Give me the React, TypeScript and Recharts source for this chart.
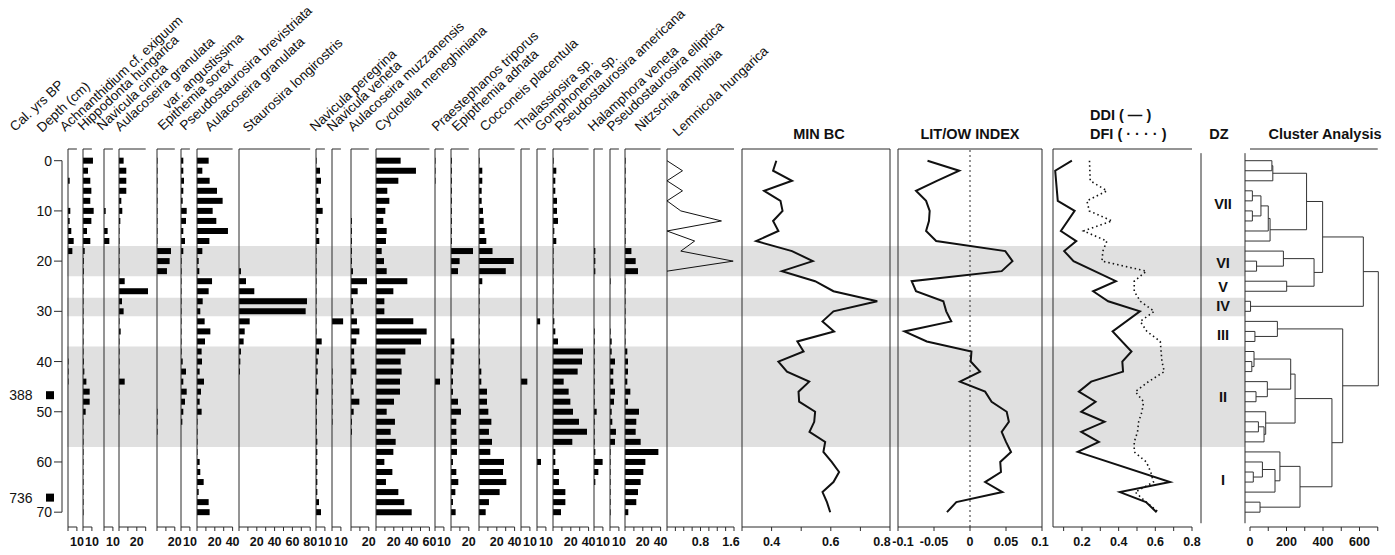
import React from 'react';
import {
  BarChart,
  Bar,
  ScatterChart,
  Scatter,
  XAxis,
  YAxis,
  ZAxis,
  ReferenceLine,
  ReferenceArea,
  LabelList,
} from 'recharts';

// ---- page geometry ----
const W = 1395;
const H = 555;
const TOP = 149; // upper axis lines
const BOTTOM = 527; // lower axis lines
const D_MIN = -2.33; // depth (cm) at TOP
const D_MAX = 72.95; // depth (cm) at BOTTOM
const PX_PER_PCT = 0.89;
const PAD = 14; // room round each panel for tick labels
const INK = '#111';
const LINE = '#2b2b2b';
const BAND = '#e0e0e0';
const FONT = '"Liberation Sans", Arial, Helvetica, sans-serif';

// ---- data ----
// sample depths (cm)
const DEPTHS = [0, 2, 4, 6, 8, 10, 12, 14, 16, 18, 20, 22, 24, 26, 28, 30, 32, 34, 36, 38, 40, 42, 44, 46, 48, 50, 52, 54, 56, 58, 60, 62, 64, 66, 68, 70];

// relative abundances (%), one value per sample depth
const ACHNANTHIDIUM = [0, 0, 1.9, 0, 0, 2.6, 1.9, 3.7, 6.4, 4.9, 0, 0, 0, 0, 0, 0, 0, 0, 0, 0, 0.6, 0.6, 0.6, 0, 0, 0, 0, 0, 0, 0, 0, 0, 0, 0, 0, 0];
const HIPPODONTA = [11.2, 5.6, 8.2, 9.4, 8.2, 12, 9.4, 4.5, 8.2, 1.9, 1, 1, 0.6, 0.6, 0.6, 0.6, 0.6, 0.6, 0.6, 0.6, 1, 1.5, 3.8, 7.5, 7.5, 3, 0.6, 0.6, 0.6, 0.6, 0.6, 0.6, 0.6, 0.6, 0.6, 0.6];
const NAVICULA_CINCTA = [0, 0, 0, 0, 0, 1.9, 0, 4.1, 6, 0, 0, 0, 0, 0, 0, 0, 0, 0, 0, 0, 0, 0, 0, 0, 0, 0, 0, 0, 0, 0, 0, 0, 0, 0, 0, 0];
const AULACOSEIRA_ANGUSTISSIMA = [5.2, 8.2, 8.2, 8.2, 2.6, 3.7, 1.5, 0.6, 0.6, 0.6, 0.6, 0.6, 6.4, 32.6, 3.4, 5.2, 0.6, 1.9, 0.6, 0.6, 0.6, 0.6, 6.4, 0.6, 0.6, 0.6, 0, 0, 0, 0, 0, 0, 0, 0, 0, 0];
const EPITHEMIA_SOREX = [0.6, 0.6, 0.6, 0.6, 0.6, 0.6, 0.6, 0.6, 0.6, 15.7, 14.2, 11.2, 0, 0, 0, 0, 0, 0, 0, 0, 0, 0, 0, 0, 0, 0.6, 0.6, 0.6, 0, 0, 0, 0, 0, 0, 0, 0];
const PSEUDOSTAUROSIRA_BREVISTRIATA = [2.6, 2.6, 3.4, 2.6, 1.9, 6.4, 5.6, 2.6, 4.5, 2.6, 0.7, 0.7, 0.6, 0.6, 0.6, 0.6, 0.6, 0.6, 0.6, 0.7, 1.9, 5.6, 2.6, 6.4, 4.5, 2.6, 1.5, 0, 0, 0, 0, 0, 0, 0, 0, 0];
const AULACOSEIRA_GRANULATA = [13.1, 6, 14.2, 22.5, 28.8, 17.6, 21.7, 34.8, 13.9, 6, 1.9, 2.6, 16.9, 13.1, 6.4, 3.7, 8.6, 15, 9, 5.2, 5.6, 3, 7.9, 4.5, 3, 5.2, 0.6, 0.6, 0.6, 0.6, 3, 3.7, 7.5, 1.9, 13.1, 14.2];
const STAUROSIRA = [0, 0, 0, 0, 0, 0, 0, 0, 0, 0, 0, 2.2, 7.9, 17.2, 76.4, 74.9, 12, 6.4, 5.2, 2.2, 1.5, 1.1, 0, 0, 0, 0, 0, 0, 0, 0, 0, 0, 0, 0, 0, 0];
const NAVICULA_PEREGRINA = [0.7, 4.5, 5.6, 2.6, 4.5, 7.5, 2.6, 2.6, 3.7, 0.6, 0.6, 0.6, 0.6, 0.6, 0.6, 0.6, 0.6, 0.6, 6.4, 3.4, 1.9, 1.9, 1, 2.6, 1, 1, 1, 1, 1.5, 1.5, 1.5, 1.5, 1.5, 1.5, 3.4, 5.6];
const NAVICULA_VENETA = [0, 0, 0, 0, 0, 0, 0, 0, 0, 0, 0, 0, 0, 0, 0, 0, 12.5, 0, 0, 0, 0, 0.6, 0.6, 0.6, 0.6, 0.6, 0.6, 0, 0, 0, 0, 0, 0, 0, 0, 0];
const AULACOSEIRA_MUZZANENSIS = [0, 0, 0, 0, 0, 0, 1.1, 1.1, 1.1, 1.1, 1.1, 2.2, 18, 7.5, 2.2, 3, 6.7, 9.4, 6, 3.5, 3.7, 6, 2.2, 3, 9.4, 3, 1.1, 1.1, 0, 0, 0, 0, 0, 0, 0, 0];
const CYCLOTELLA = [27.7, 44.9, 25.1, 12.7, 15, 10.5, 8.2, 12, 11.2, 6.4, 9, 12, 35.2, 19.5, 9.4, 9.4, 41.9, 56.9, 50.6, 33, 27.7, 28.8, 27, 27, 20.2, 12, 21.3, 16.5, 22.1, 19.5, 9.4, 18.4, 11.2, 25.1, 31.8, 40.1];
const PRAESTEPHANOS = [0.6, 0.6, 0.6, 0, 0, 0, 0, 0, 0, 0, 0, 0, 0, 0, 0, 0, 0, 0, 0, 0, 0, 0, 5.6, 0, 0, 0, 0, 0, 0, 0, 0, 0, 0, 0, 0, 0];
const EPITHEMIA_ADNATA = [1, 1, 1, 1, 1, 1, 1, 1, 1, 24.7, 9.7, 7.9, 0, 0, 0, 0, 0, 0, 3.7, 3.7, 3, 2.2, 2.2, 2.2, 7.9, 11.2, 6, 6, 6.7, 6.7, 2.2, 6, 8.2, 4.9, 2.2, 5.2];
const COCCONEIS = [0.7, 3.7, 3.7, 3, 3, 4.5, 5.2, 6.4, 8.2, 15.2, 39.1, 30.1, 3.7, 0.6, 0.6, 0.6, 0.6, 0.6, 0.6, 0.7, 1.2, 2.6, 2.6, 9, 9, 10.5, 13.9, 11.2, 14.6, 12.7, 28.1, 27, 30.7, 23.2, 11.2, 7.5];
const THALASSIOSIRA = [0, 0, 0, 0, 0, 0, 0, 0, 0, 0, 0, 0, 0, 0, 0, 0, 0, 0, 0, 0, 0, 0, 7.1, 0, 0, 0, 0, 0, 0, 0, 0, 0, 0, 0, 0, 0];
const GOMPHONEMA = [0, 0, 0, 0, 0, 0, 0, 0, 0, 0, 0, 0, 0, 0, 0, 0, 3.5, 0, 0, 0, 0, 0, 0, 0, 0, 0, 0, 0, 0, 0, 4.5, 0, 0, 0, 0, 0];
const PSEUDOSTAUROSIRA_AMERICANA = [0.7, 3.7, 2.6, 2.6, 4.5, 4.5, 5.6, 1.5, 3.7, 0.6, 0.6, 0.6, 0.6, 0.6, 0.6, 0.6, 1.5, 2.6, 5.6, 33.7, 32.6, 27.7, 12, 17.6, 19.5, 22.5, 29.2, 38.2, 21.7, 2.6, 2.6, 6.7, 6.7, 13.9, 13.9, 9];
const HALAMPHORA = [0, 0, 0, 0, 0, 0, 0, 0, 0, 1.5, 1.5, 1.5, 0, 0, 0, 0, 0, 0.8, 0.8, 0.8, 0.8, 0.8, 0.8, 0.8, 0.8, 3, 0.8, 0.8, 0.8, 1.5, 9.7, 4.9, 1.5, 0, 0, 0];
const PSEUDOSTAUROSIRA_ELLIPTICA = [0, 0, 0, 0, 0, 0, 0, 0, 0, 0, 0, 0, 0.7, 0, 0, 0, 0, 0.7, 1.9, 1.9, 5.6, 3.7, 3.7, 5.6, 4.5, 1.9, 2.6, 6.7, 5.6, 0.7, 0.7, 0.7, 0.7, 0.7, 0.7, 0.7];
const NITZSCHIA = [0.7, 0.7, 0.7, 0.7, 0.7, 0.7, 0.7, 0.7, 0.7, 7.2, 12, 14.6, 0.6, 0.6, 0.6, 0.6, 0.6, 0.6, 0.6, 2.6, 3.4, 3.4, 2.6, 6, 3.4, 15.7, 12.7, 12, 17.6, 37.5, 22.9, 20.6, 17.6, 14.6, 12.7, 3.7];

const TAXA = [
  { name: 'Achnanthidium cf. exiguum', values: ACHNANTHIDIUM, max: 10 },
  { name: 'Hippodonta hungarica', values: HIPPODONTA, max: 10 },
  { name: 'Navicula cincta', values: NAVICULA_CINCTA, max: 10 },
  { name: 'Aulacoseira granulata', values: AULACOSEIRA_ANGUSTISSIMA, max: 30 },
  { name: 'Epithemia sorex', values: EPITHEMIA_SOREX, max: 20 },
  { name: 'Pseudostaurosira brevistriata', values: PSEUDOSTAUROSIRA_BREVISTRIATA, max: 10 },
  { name: 'Aulacoseira granulata', values: AULACOSEIRA_GRANULATA, max: 40 },
  { name: 'Staurosira longirostris', values: STAUROSIRA, max: 80 },
  { name: 'Navicula peregrina', values: NAVICULA_PEREGRINA, max: 10 },
  { name: 'Navicula veneta', values: NAVICULA_VENETA, max: 10 },
  { name: 'Aulacoseira muzzanensis', values: AULACOSEIRA_MUZZANENSIS, max: 20 },
  { name: 'Cyclotella meneghiniana', values: CYCLOTELLA, max: 60 },
  { name: 'Praestephanos triporus', values: PRAESTEPHANOS, max: 10 },
  { name: 'Epipthemia adnata', values: EPITHEMIA_ADNATA, max: 20 },
  { name: 'Cocconeis placentula', values: COCCONEIS, max: 40 },
  { name: 'Thalassiosira sp.', values: THALASSIOSIRA, max: 10 },
  { name: 'Gomphonema sp.', values: GOMPHONEMA, max: 10 },
  { name: 'Pseudostaurosira americana', values: PSEUDOSTAUROSIRA_AMERICANA, max: 40 },
  { name: 'Halamphora veneta', values: HALAMPHORA, max: 10 },
  { name: 'Pseudostaurosira elliptica', values: PSEUDOSTAUROSIRA_ELLIPTICA, max: 10 },
  { name: 'Nitzschia amphibia', values: NITZSCHIA, max: 40 },
];

const LEMNICOLA_DEPTHS = [0, 2, 4, 6, 8, 10, 12, 14, 16, 18, 20, 22];
const LEMNICOLA = [0, 0.37, 0, 0.37, 0, 0.33, 1.3, 0, 0.66, 0.33, 1.58, 0];

const MIN_BC = [0.416, 0.405, 0.469, 0.375, 0.43, 0.437, 0.405, 0.423, 0.348, 0.469, 0.539, 0.435, 0.547, 0.609, 0.757, 0.609, 0.572, 0.611, 0.487, 0.508, 0.423, 0.452, 0.527, 0.491, 0.493, 0.547, 0.544, 0.528, 0.581, 0.575, 0.603, 0.628, 0.609, 0.572, 0.587, 0.598];
const LIT_OW = [-0.059, -0.015, -0.046, -0.075, -0.061, -0.056, -0.057, -0.061, -0.047, 0.049, 0.059, 0.044, -0.081, -0.075, -0.037, -0.033, -0.026, -0.091, -0.06, 0.002, 0.001, 0.014, -0.014, 0.021, 0.03, 0.051, 0.054, 0.044, 0.05, 0.057, 0.042, 0.043, 0.021, 0.045, -0.019, -0.032];

const DDI_DEPTHS = [0, 2, 8, 10, 14, 16, 18, 20, 24, 26, 28, 30, 34, 38, 40, 42, 44, 46, 48, 50, 52, 54, 56, 58, 64, 66, 68, 70];
const DDI = [0.145, 0.054, 0.068, 0.16, 0.085, 0.169, 0.103, 0.154, 0.385, 0.261, 0.343, 0.516, 0.367, 0.47, 0.42, 0.424, 0.25, 0.183, 0.274, 0.196, 0.323, 0.196, 0.292, 0.177, 0.68, 0.407, 0.549, 0.607];
const DFI_DEPTHS = [0, 4, 6, 8, 10, 12, 14, 16, 18, 20, 22, 24, 26, 28, 30, 32, 34, 36, 40, 42, 44, 46, 48, 50, 52, 54, 56, 58, 60, 62, 64, 66, 68, 70];
const DFI = [0.241, 0.245, 0.336, 0.227, 0.24, 0.364, 0.209, 0.336, 0.314, 0.309, 0.551, 0.485, 0.485, 0.518, 0.594, 0.518, 0.554, 0.627, 0.636, 0.649, 0.563, 0.491, 0.536, 0.527, 0.509, 0.503, 0.485, 0.485, 0.551, 0.575, 0.59, 0.49, 0.551, 0.618];

// cluster analysis: [node, child A, child B, linkage distance]; numbers are leaf depths
const CLUSTER_MERGES: [string, string | number, string | number, number][] = [
  ['n1', 0, 2, 120], ['n2', 'n1', 4, 125],
  ['n3', 6, 8, 13], ['n4', 10, 12, 13], ['n5', 'n3', 'n4', 60], ['n6', 'n5', 14, 100], ['n7', 'n6', 16, 110],
  ['n8', 'n2', 'n7', 310],
  ['n9', 20, 22, 36], ['n10', 18, 'n9', 183], ['n11', 24, 26, 201], ['n12', 'n10', 'n11', 351],
  ['n13', 'n8', 'n12', 398], ['n14', 28, 30, 3], ['n15', 'n13', 'n14', 621],
  ['n16', 34, 36, 27], ['n17', 32, 'n16', 150],
  ['n18', 40, 42, 10], ['n19', 38, 'n18', 22], ['n20', 46, 48, 33], ['n21', 44, 'n20', 95], ['n22', 'n19', 'n21', 223],
  ['n23', 52, 54, 46], ['n24', 'n23', 56, 77], ['n25', 50, 'n24', 86], ['n26', 'n22', 'n25', 247],
  ['n27', 62, 64, 18], ['n28', 60, 'n27', 68], ['n29', 'n28', 66, 137], ['n30', 58, 'n29', 164],
  ['n31', 68, 70, 55], ['n32', 'n30', 'n31', 274], ['n33', 'n26', 'n32', 449],
  ['n34', 'n17', 'n33', 508], ['n35', 'n15', 'n34', 703],
];

const ZONE_BANDS = [[17, 23], [27.3, 31], [37, 57]];
const ZONE_NAMES = ['VII', 'VI', 'V', 'IV', 'III', 'II', 'I'];
const ZONE_LABEL_DEPTHS = [8.5, 20.3, 25.1, 29, 34.6, 47, 63.6];
const AGE_LABELS = ['388', '736'];
const AGE_DEPTHS = [46.7, 67.1];
const DEPTH_TICKS = [0, 10, 20, 30, 40, 50, 60, 70];

const LEMNICOLA_TICKS = [0, 0.2, 0.4, 0.6, 0.8, 1, 1.2, 1.4, 1.6];
const MIN_BC_TICKS = [0.3, 0.4, 0.5, 0.6, 0.7, 0.8];
const LIT_OW_TICKS = [-0.1, -0.05, 0, 0.05, 0.1];
const DDI_TICKS = [0.1, 0.2, 0.3, 0.4, 0.5, 0.6, 0.7, 0.8];
const CLUSTER_TICKS = [0, 100, 200, 300, 400, 500, 600, 700];

// ---- layout ----
const PANEL_LEFT = [68, 83, 104, 119, 157, 181, 197, 239, 316, 332, 351, 376, 435, 451, 479, 521, 537, 553, 594, 610, 625];
const LABEL_AT: [number, number][] = [
  [65, 132], [83, 131], [102, 131], [120, 132], [163, 131], [185, 131], [210, 132], [248, 133],
  [315, 132], [332, 132], [353, 132], [380, 132], [437, 132], [457, 132], [485, 132], [520, 132],
  [540, 132], [560, 132], [593, 132], [612, 132], [640, 132],
];
const CLUSTER_LEFT = 1245;
const CLUSTER_W = 136;
const CLUSTER_DOMAIN: [number, number] = [-27.4, 717.8];
const AX_H = 1; // thin axis strips (an axis of height 0 is not drawn)

const noDot = () => <g />;

const topTick = (p: any) => <line x1={p.x} x2={p.x} y1={p.y} y2={p.y + 4} stroke={LINE} />;
const bottomTick = (labels: number[], nudge: Record<string, number> = {}) => (p: any) => (
  <g>
    <line x1={p.x} x2={p.x} y1={p.y} y2={p.y + 4} stroke={LINE} />
    {labels.includes(p.payload.value) && (
      <text
        x={p.x + (nudge[String(p.payload.value)] || 0)}
        y={p.y + 19}
        textAnchor="middle"
        fontSize={12.5}
        fontWeight="bold"
        fill={INK}
      >
        {p.payload.value}
      </text>
    )}
  </g>
);

const MARGIN = { top: TOP - AX_H, right: PAD, bottom: H - BOTTOM - AX_H, left: PAD };

function axisPair(
  domain: [number, number],
  ticks: number[],
  labels: number[],
  dataKey?: string,
  nudge?: Record<string, number>,
) {
  const common: any = {
    type: 'number',
    domain,
    ticks,
    interval: 0,
    height: AX_H,
    axisLine: false,
    tickLine: false,
    tickSize: 0,
    tickMargin: 0,
  };
  if (dataKey) common.dataKey = dataKey;
  return [
    <XAxis key="xb" xAxisId="b" orientation="bottom" tick={bottomTick(labels, nudge)} {...common} />,
    <XAxis key="xt" xAxisId="t" orientation="top" tick={topTick} {...common} />,
  ];
}

function frame(lo: number, hi: number, rightEdge: boolean) {
  const out = [
    <ReferenceLine key="fl" xAxisId="b" x={lo} stroke={LINE} ifOverflow="visible" />,
    <ReferenceLine key="ft" xAxisId="b" segment={[{ x: lo, y: D_MIN }, { x: hi, y: D_MIN }]} stroke={LINE} ifOverflow="visible" />,
    <ReferenceLine key="fb" xAxisId="b" segment={[{ x: lo, y: D_MAX }, { x: hi, y: D_MAX }]} stroke={LINE} ifOverflow="visible" />,
  ];
  if (rightEdge) out.push(<ReferenceLine key="fr" xAxisId="b" x={hi} stroke={LINE} ifOverflow="visible" />);
  return out;
}

function BarPanel({ left, max, values }: { left: number; max: number; values: number[] }) {
  const plotW = Math.round(max * PX_PER_PCT) + 14; // spare room for bars past the last tick
  const data = DEPTHS.map((depth, i) => ({ depth, v: values[i] }));
  const ticks: number[] = [];
  for (let t = 0; t <= max; t += 10) ticks.push(t);
  const labels = ticks.filter((t) => (max === 10 ? t === 10 : t > 0 && t % 20 === 0));
  return (
    <div style={{ position: 'absolute', left: left - PAD, top: 0 }}>
      <BarChart width={plotW + 2 * PAD} height={H} data={data} layout="vertical" margin={MARGIN}>
        {axisPair([0, plotW / PX_PER_PCT], ticks, labels)}
        {/* in a vertical layout the category axis already runs top to bottom */}
        <YAxis type="number" dataKey="depth" domain={[D_MIN, D_MAX]} hide />
        {frame(0, max, false)}
        <Bar xAxisId="b" dataKey="v" fill="#000" barSize={6} isAnimationActive={false} />
      </BarChart>
    </div>
  );
}

type Series = { depths: number[]; values: number[]; width: number; dash?: string };

function CurvePanel(props: {
  left: number;
  plotW: number;
  domain: [number, number];
  ticks: number[];
  labels: number[];
  series: Series[];
  rightEdge?: boolean;
  zeroLine?: boolean;
  nudge?: Record<string, number>;
}) {
  const { left, plotW, domain, ticks, labels, series, rightEdge = false, zeroLine = false, nudge } = props;
  return (
    <div style={{ position: 'absolute', left: left - PAD, top: 0 }}>
      <ScatterChart width={plotW + 2 * PAD} height={H} margin={MARGIN}>
        {axisPair(domain, ticks, labels, 'x', nudge)}
        <YAxis type="number" dataKey="y" domain={[D_MIN, D_MAX]} reversed hide />
        {frame(domain[0], domain[1], rightEdge)}
        {zeroLine && <ReferenceLine xAxisId="b" x={0} stroke={LINE} strokeDasharray="2 3" />}
        {series.map((s, i) => (
          <Scatter
            key={i}
            xAxisId="b"
            data={s.values.map((x, j) => ({ x, y: s.depths[j] }))}
            line={{ stroke: INK, strokeWidth: s.width, strokeDasharray: s.dash }}
            shape={noDot}
            isAnimationActive={false}
          />
        ))}
      </ScatterChart>
    </div>
  );
}

function Dendrogram() {
  const [lo] = CLUSTER_DOMAIN;
  const nodes: Record<string, { x: number; y: number }> = {};
  const at = (k: string | number) => (typeof k === 'number' ? { x: lo, y: k } : nodes[k]);
  const brackets = CLUSTER_MERGES.map(([id, a, b, h]) => {
    const pa = at(a);
    const pb = at(b);
    nodes[id] = { x: h, y: (pa.y + pb.y) / 2 };
    return [
      { x: pa.x, y: pa.y },
      { x: h, y: pa.y },
      { x: h, y: pb.y },
      { x: pb.x, y: pb.y },
    ];
  });
  return (
    <div style={{ position: 'absolute', left: CLUSTER_LEFT - PAD, top: 0 }}>
      <ScatterChart width={CLUSTER_W + 2 * PAD} height={H} margin={MARGIN}>
        {axisPair(CLUSTER_DOMAIN, CLUSTER_TICKS, [0, 200, 400, 600], 'x')}
        <YAxis type="number" dataKey="y" domain={[D_MIN, D_MAX]} reversed hide />
        <ReferenceLine xAxisId="b" segment={[{ x: 0, y: D_MIN }, { x: 700, y: D_MIN }]} stroke={LINE} ifOverflow="visible" />
        <ReferenceLine xAxisId="b" segment={[{ x: 0, y: D_MAX }, { x: 700, y: D_MAX }]} stroke={LINE} ifOverflow="visible" />
        <ReferenceLine xAxisId="b" segment={[{ x: lo, y: -1.5 }, { x: lo, y: 72.2 }]} stroke={LINE} ifOverflow="visible" />
        {brackets.map((pts, i) => (
          <Scatter
            key={i}
            xAxisId="b"
            data={pts}
            line={{ stroke: '#333', strokeWidth: 1 }}
            shape={noDot}
            isAnimationActive={false}
          />
        ))}
      </ScatterChart>
    </div>
  );
}

function Backdrop() {
  const zones = ZONE_NAMES.map((name, i) => ({ x: 1223, y: ZONE_LABEL_DEPTHS[i], name }));
  const ages = AGE_LABELS.map((age, i) => ({ x: 50, y: AGE_DEPTHS[i], age }));
  return (
    <div style={{ position: 'absolute', left: 0, top: 0 }}>
      <ScatterChart width={W} height={H} margin={{ top: TOP, right: 0, bottom: H - BOTTOM, left: 0 }}>
        <XAxis type="number" dataKey="x" domain={[0, W]} hide />
        <YAxis type="number" dataKey="y" domain={[D_MIN, D_MAX]} reversed hide />
        <ZAxis range={[50, 50]} />
        {ZONE_BANDS.map(([a, b]) => (
          <ReferenceArea key={a} x1={67} x2={1245} y1={a} y2={b} fill={BAND} fillOpacity={1} stroke="none" ifOverflow="visible" />
        ))}
        <ReferenceLine segment={[{ x: 1201, y: -1.5 }, { x: 1201, y: 72.2 }]} stroke={LINE} ifOverflow="visible" />
        <Scatter data={zones} shape={noDot} isAnimationActive={false}>
          <LabelList dataKey="name" position="center" fontSize={14.5} fontWeight="bold" fill={INK} />
        </Scatter>
        <Scatter data={ages} shape="square" fill="#000" isAnimationActive={false}>
          <LabelList dataKey="age" position="left" offset={13} fontSize={14} fill={INK} />
        </Scatter>
      </ScatterChart>
    </div>
  );
}

function DepthAxis() {
  // the axis line itself is drawn as a two-point series from 0 to 70 cm
  const axisLine = [
    { x: 0, y: DEPTH_TICKS[0] },
    { x: 0, y: DEPTH_TICKS[DEPTH_TICKS.length - 1] },
  ];
  return (
    <div style={{ position: 'absolute', left: 0, top: 0 }}>
      <ScatterChart width={64} height={H} margin={{ top: TOP, right: 1, bottom: H - BOTTOM, left: 0 }}>
        <XAxis type="number" dataKey="x" domain={[0, 1]} hide />
        <YAxis
          type="number"
          dataKey="y"
          domain={[D_MIN, D_MAX]}
          reversed
          ticks={DEPTH_TICKS}
          interval={0}
          width={62}
          axisLine={false}
          tickSize={8}
          tickLine={{ stroke: LINE }}
          tick={{ fontSize: 14, fill: INK }}
        />
        <Scatter data={axisLine} line={{ stroke: LINE, strokeWidth: 1 }} shape={noDot} isAnimationActive={false} />
      </ScatterChart>
    </div>
  );
}

function Titles() {
  const rot = (x: number, y: number) => `translate(${x},${y}) rotate(-43)`;
  return (
    <svg width={W} height={H} style={{ position: 'absolute', left: 0, top: 0, pointerEvents: 'none' }}>
      <g fontSize={13.5} fill={INK}>
        <text transform={rot(15, 132)}>Cal. yrs BP</text>
        <text transform={rot(42, 133)}>Depth (cm)</text>
        {TAXA.map((t, i) => (
          <text key={i} transform={rot(LABEL_AT[i][0], LABEL_AT[i][1])}>{t.name}</text>
        ))}
        <text transform={rot(168, 110)}>var. angustissima</text>
        <text transform={rot(678, 137)}>Lemnicola hungarica</text>
      </g>
      <g fontSize={14.5} fontWeight="bold" fill={INK}>
        <text x={819} y={138.5} textAnchor="middle">MIN BC</text>
        <text x={970} y={138.5} textAnchor="middle">LIT/OW INDEX</text>
        <text x={1090} y={119.5}>DDI ( {'\u2014'} )</text>
        <text x={1090} y={138.5}>DFI ( {'\u00b7 \u00b7 \u00b7 \u00b7'} )</text>
        <text x={1219} y={138.5} textAnchor="middle">DZ</text>
        <text x={1325} y={138.5} textAnchor="middle">Cluster Analysis</text>
      </g>
    </svg>
  );
}

export default function App() {
  return (
    <div
      style={{
        position: 'absolute',
        left: 0,
        top: 0,
        width: W,
        height: H,
        background: '#fff',
        fontFamily: FONT,
        overflow: 'hidden',
      }}
    >
      <Backdrop />
      <DepthAxis />
      {TAXA.map((t, i) => (
        <BarPanel key={i} left={PANEL_LEFT[i]} max={t.max} values={t.values} />
      ))}
      <CurvePanel
        left={667}
        plotW={67}
        domain={[0, 1.6]}
        ticks={LEMNICOLA_TICKS}
        labels={[0.8, 1.6]}
        series={[{ depths: LEMNICOLA_DEPTHS, values: LEMNICOLA, width: 1 }]}
        nudge={{ '1.6': -3 }}
      />
      <CurvePanel
        left={742}
        plotW={148}
        domain={[0.3, 0.8]}
        ticks={MIN_BC_TICKS}
        labels={[0.4, 0.6, 0.8]}
        series={[{ depths: DEPTHS, values: MIN_BC, width: 2 }]}
        rightEdge
        nudge={{ '0.8': -8 }}
      />
      <CurvePanel
        left={898}
        plotW={144}
        domain={[-0.1, 0.1]}
        ticks={LIT_OW_TICKS}
        labels={LIT_OW_TICKS}
        series={[{ depths: DEPTHS, values: LIT_OW, width: 2 }]}
        rightEdge
        zeroLine
        nudge={{ '-0.1': 5, '0.1': -2 }}
      />
      <CurvePanel
        left={1053}
        plotW={139}
        domain={[0.042, 0.8]}
        ticks={DDI_TICKS}
        labels={[0.2, 0.4, 0.6, 0.8]}
        series={[
          { depths: DDI_DEPTHS, values: DDI, width: 2 },
          { depths: DFI_DEPTHS, values: DFI, width: 1.6, dash: '1.5 3' },
        ]}
      />
      <Dendrogram />
      <Titles />
    </div>
  );
}
